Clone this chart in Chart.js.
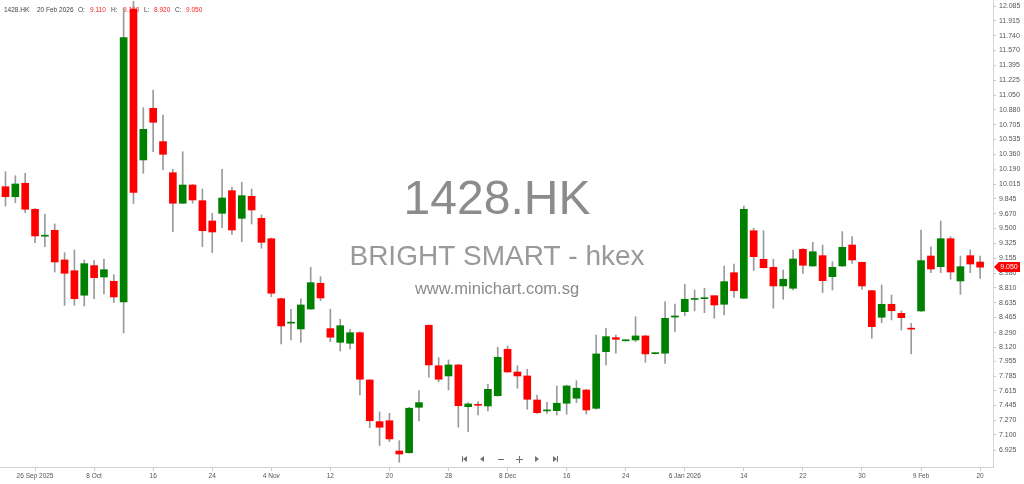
<!DOCTYPE html>
<html>
<head>
<meta charset="utf-8">
<script src="https://cdn.jsdelivr.net/npm/chart.js@4.4.1/dist/chart.umd.min.js"></script>
<style>
html, body { margin: 0; padding: 0; background: #fff; }
#wrap { width: 1024px; height: 484px; }
</style>
</head>
<body>
<div id="wrap"><canvas id="c" width="1024" height="484"></canvas></div>
<script>
// trading days shown (HK calendar)
const dates = [
    '2025-09-23','2025-09-24','2025-09-25','2025-09-26','2025-09-29','2025-09-30',
    '2025-10-02','2025-10-03','2025-10-06','2025-10-08','2025-10-09','2025-10-10','2025-10-13','2025-10-14',
    '2025-10-15','2025-10-16','2025-10-17','2025-10-20','2025-10-21','2025-10-22','2025-10-23','2025-10-24',
    '2025-10-27','2025-10-28','2025-10-30','2025-10-31',
    '2025-11-03','2025-11-04','2025-11-05','2025-11-06','2025-11-07','2025-11-10','2025-11-11','2025-11-12',
    '2025-11-13','2025-11-14','2025-11-17','2025-11-18','2025-11-19','2025-11-20','2025-11-21','2025-11-24',
    '2025-11-25','2025-11-26','2025-11-27','2025-11-28',
    '2025-12-01','2025-12-02','2025-12-03','2025-12-04','2025-12-05','2025-12-08','2025-12-09','2025-12-10',
    '2025-12-11','2025-12-12','2025-12-15','2025-12-16','2025-12-17','2025-12-18','2025-12-19','2025-12-22',
    '2025-12-23','2025-12-24','2025-12-29','2025-12-30','2025-12-31',
    '2026-01-02','2026-01-05','2026-01-06','2026-01-07','2026-01-08','2026-01-09','2026-01-12','2026-01-13',
    '2026-01-14','2026-01-15','2026-01-16','2026-01-19','2026-01-20','2026-01-21','2026-01-22','2026-01-23',
    '2026-01-26','2026-01-27','2026-01-28','2026-01-29','2026-01-30',
    '2026-02-02','2026-02-03','2026-02-04','2026-02-05','2026-02-06','2026-02-09','2026-02-10','2026-02-11',
    '2026-02-12','2026-02-13','2026-02-16','2026-02-20'
];

const opens = [
    9.985, 9.869, 10.025, 9.723, 9.410, 9.479, 9.134, 9.009, 8.724, 9.068,
    8.936, 8.886, 8.646, 12.050, 10.296, 10.897, 10.509, 10.148, 9.793, 10.005,
    9.823, 9.587, 9.676, 9.939, 9.618, 9.874, 9.618, 9.381, 8.684, 8.400,
    8.332, 8.564, 8.863, 8.336, 8.177, 8.166, 8.289, 7.739, 7.255, 7.266,
    6.914, 6.894, 7.422, 8.375, 7.905, 7.786, 7.914, 7.429, 7.450, 7.437,
    7.557, 8.096, 7.832, 7.786, 7.507, 7.380, 7.383, 7.469, 7.527, 7.623,
    7.410, 8.068, 8.231, 8.195, 8.204, 8.251, 8.045, 8.050, 8.470, 8.533,
    8.675, 8.684, 8.719, 8.619, 8.986, 8.689, 9.474, 9.142, 9.049, 8.832,
    8.805, 9.258, 9.064, 9.184, 8.940, 9.064, 9.308, 9.107, 8.777, 8.468,
    8.619, 8.514, 8.340, 8.541, 9.180, 9.056, 9.381, 8.890, 9.184, 9.110
];
const highs = [
    10.160, 10.113, 10.141, 9.730, 9.668, 9.552, 9.219, 9.250, 9.134, 9.126,
    9.145, 8.963, 12.062, 12.140, 10.904, 11.109, 10.819, 10.188, 10.392, 10.010,
    9.959, 9.676, 10.188, 9.979, 10.037, 9.959, 9.657, 9.390, 8.690, 8.561,
    8.681, 9.049, 8.940, 8.561, 8.445, 8.329, 8.300, 7.745, 7.368, 7.352,
    7.034, 7.420, 7.615, 8.380, 7.999, 7.972, 7.920, 7.476, 7.487, 7.689,
    8.119, 8.134, 7.905, 7.864, 7.565, 7.480, 7.670, 7.680, 7.731, 7.630,
    8.262, 8.340, 8.262, 8.205, 8.475, 8.260, 8.055, 8.649, 8.622, 8.851,
    8.785, 8.805, 8.720, 9.064, 9.087, 9.761, 9.502, 9.474, 9.142, 9.018,
    9.250, 9.265, 9.339, 9.308, 9.114, 9.463, 9.405, 9.110, 8.780, 8.843,
    8.727, 8.541, 8.398, 9.482, 9.288, 9.587, 9.405, 9.180, 9.250, 9.180
];
const lows = [
    9.761, 9.800, 9.683, 9.335, 9.288, 8.994, 8.607, 8.607, 8.599, 8.684,
    8.739, 8.638, 8.286, 9.790, 10.141, 10.392, 10.179, 9.463, 9.790, 9.793,
    9.288, 9.219, 9.509, 9.432, 9.346, 9.552, 9.270, 8.707, 8.158, 8.204,
    8.177, 8.560, 8.661, 8.184, 8.076, 8.100, 7.565, 7.185, 6.977, 7.022,
    6.783, 6.890, 7.263, 7.771, 7.720, 7.623, 7.190, 7.139, 7.333, 7.379,
    7.550, 7.830, 7.643, 7.399, 7.350, 7.352, 7.333, 7.341, 7.476, 7.344,
    7.400, 7.914, 8.050, 8.190, 8.184, 7.945, 8.040, 7.933, 8.301, 8.487,
    8.541, 8.521, 8.456, 8.495, 8.700, 8.685, 9.010, 9.040, 8.573, 8.677,
    8.785, 8.979, 9.060, 8.754, 8.785, 9.060, 9.095, 8.793, 8.224, 8.405,
    8.437, 8.320, 8.042, 8.535, 8.986, 8.986, 8.910, 8.735, 8.986, 8.920
];
const closes = [
    9.869, 10.017, 9.723, 9.413, 9.415, 9.111, 8.979, 8.684, 9.091, 8.928,
    9.021, 8.704, 11.717, 9.920, 10.652, 10.734, 10.362, 9.793, 10.005, 9.831,
    9.474, 9.459, 9.854, 9.482, 9.881, 9.715, 9.339, 8.747, 8.367, 8.410,
    8.611, 8.870, 8.692, 8.236, 8.370, 8.289, 7.748, 7.266, 7.190, 7.054,
    6.879, 7.411, 7.476, 7.914, 7.748, 7.914, 7.441, 7.461, 7.445, 7.631,
    8.003, 7.832, 7.786, 7.515, 7.359, 7.385, 7.469, 7.670, 7.643, 7.391,
    8.042, 8.243, 8.212, 8.200, 8.251, 8.042, 8.050, 8.456, 8.483, 8.677,
    8.681, 8.689, 8.611, 8.882, 8.777, 9.723, 9.172, 9.044, 8.832, 8.910,
    9.145, 9.072, 9.230, 8.893, 9.049, 9.281, 9.134, 8.832, 8.359, 8.619,
    8.545, 8.463, 8.330, 9.126, 9.029, 9.381, 8.994, 9.056, 9.087, 9.050
];

const xTickDates = [
    '2025-09-26','2025-10-08','2025-10-16','2025-10-24','2025-11-04','2025-11-12',
    '2025-11-20','2025-11-28','2025-12-08','2025-12-16','2025-12-24','2026-01-06',
    '2026-01-14','2026-01-22','2026-01-30','2026-02-09','2026-02-20'
];
const xTickText = [
    '26 Sep 2025','8 Oct','16','24','4 Nov','12','20','28','8 Dec','16','24',
    '6 Jan 2026','14','22','30','9 Feb','20'
];
const yTickLabels = [
    '12.085','11.915','11.740','11.570','11.395','11.225','11.050','10.880','10.705','10.535',
    '10.360','10.190','10.015','9.845','9.670','9.500','9.325','9.155','8.980','8.810',
    '8.635','8.465','8.290','8.120','7.955','7.785','7.615','7.445','7.270','7.100','6.925'
];

const UP = '#008000';
const DOWN = '#ff0000';
const last = dates.length - 1;

const wickData = dates.map((d, i) => ({ x: i, y: [lows[i], highs[i]] }));
const bodyData = dates.map((d, i) => ({ x: i, y: [Math.min(opens[i], closes[i]), Math.max(opens[i], closes[i])] }));
const bodyColors = dates.map((d, i) => closes[i] >= opens[i] ? UP : DOWN);

// watermark + header text, under the candles
const backText = {
    id: 'backText',
    beforeDatasetsDraw(chart) {
        const c = chart.ctx;
        c.save();
        c.textAlign = 'center';
        c.textBaseline = 'middle';
        c.fillStyle = '#8c8c8c';
        c.font = '48px "Liberation Sans", Arial, sans-serif';
        c.fillText('1428.HK', 497, 201);
        c.fillStyle = '#999999';
        c.font = '28px "Liberation Sans", Arial, sans-serif';
        c.fillText('BRIGHT SMART - hkex', 497, 257);
        c.fillStyle = '#8a8a8a';
        c.font = '16.5px "Liberation Sans", Arial, sans-serif';
        c.fillText('www.minichart.com.sg', 497, 289);

        // OHLC header of the last bar
        c.textAlign = 'left';
        c.font = '6.5px "Liberation Sans", Arial, sans-serif';
        const items = [
            ['1428.HK', 4, '#444'], ['20 Feb 2026', 37, '#444'],
            ['O:', 78, '#444'], [opens[last].toFixed(3), 90, '#ff2020'],
            ['H:', 111, '#444'], [highs[last].toFixed(3), 123, '#ff2020'],
            ['L:', 144, '#444'], [lows[last].toFixed(3), 154, '#ff2020'],
            ['C:', 175, '#444'], [closes[last].toFixed(3), 186, '#ff2020']
        ];
        items.forEach(t => { c.fillStyle = t[2]; c.fillText(t[0], t[1], 10); });
        c.restore();
    }
};

// last price flag + navigation buttons
const overlay = {
    id: 'overlay',
    afterDraw(chart) {
        const c = chart.ctx;
        const y = Math.round(chart.scales.y.getPixelForValue(closes[last]));
        const x0 = chart.chartArea.right;
        c.save();
        c.fillStyle = '#ff0000';
        c.beginPath();
        c.moveTo(x0 + 1, y);
        c.lineTo(x0 + 6, y - 5);
        c.lineTo(x0 + 27, y - 5);
        c.lineTo(x0 + 27, y + 5);
        c.lineTo(x0 + 6, y + 5);
        c.closePath();
        c.fill();
        c.fillStyle = '#fff';
        c.font = '7px "Liberation Sans", Arial, sans-serif';
        c.textAlign = 'center';
        c.textBaseline = 'middle';
        c.fillText(closes[last].toFixed(3), x0 + 16, y + 0.5);

        c.fillStyle = '#707070';
        const ny = 459;
        // |<
        c.fillRect(462, ny - 3, 1, 6);
        c.beginPath(); c.moveTo(463, ny); c.lineTo(467, ny - 3); c.lineTo(467, ny + 3); c.fill();
        // <
        c.beginPath(); c.moveTo(480, ny); c.lineTo(484, ny - 3); c.lineTo(484, ny + 3); c.fill();
        // -
        c.fillRect(498, ny, 6, 1);
        // +
        c.fillRect(516, ny, 7, 1);
        c.fillRect(519, ny - 3, 1, 7);
        // >
        c.beginPath(); c.moveTo(539, ny); c.lineTo(535, ny - 3); c.lineTo(535, ny + 3); c.fill();
        // >|
        c.beginPath(); c.moveTo(557, ny); c.lineTo(553, ny - 3); c.lineTo(553, ny + 3); c.fill();
        c.fillRect(557, ny - 3, 1, 6);
        c.restore();
    }
};

new Chart(document.getElementById('c').getContext('2d'), {
    type: 'bar',
    data: {
        datasets: [
            {
                label: 'body',
                data: bodyData,
                backgroundColor: bodyColors,
                borderWidth: 0,
                barThickness: 7,
                minBarLength: 1,
                grouped: false,
                order: 0
            },
            {
                label: 'wick',
                data: wickData,
                backgroundColor: '#9a9a9a',
                borderWidth: 0,
                barThickness: 1,
                grouped: false,
                order: 1
            }
        ]
    },
    options: {
        responsive: false,
        animation: false,
        layout: { padding: 0 },
        plugins: {
            legend: { display: false },
            tooltip: { enabled: false }
        },
        scales: {
            x: {
                type: 'linear',
                min: -0.559,
                max: 100.31,
                offset: false,
                grid: { display: true, offset: false, drawOnChartArea: false, drawTicks: true, tickLength: 4, color: '#c8c8c8' },
                border: { color: '#d4d4d4' },
                afterBuildTicks: function(scale) {
                    scale.ticks = xTickDates.map(d => ({ value: dates.indexOf(d) }));
                },
                ticks: {
                    autoSkip: false,
                    maxRotation: 0,
                    padding: 1,
                    color: '#555',
                    font: { family: '"Liberation Sans", Arial, sans-serif', size: 6.5 },
                    callback: function(value, index) {
                        return xTickText[index];
                    }
                },
                afterFit: function(scale) {
                    scale.height = 17;
                    scale.paddingLeft = 0;
                    scale.paddingRight = 0;
                }
            },
            y: {
                position: 'right',
                min: 6.728,
                max: 12.155,
                grid: { display: true, drawOnChartArea: false, drawTicks: true, tickLength: 3, color: '#c8c8c8' },
                border: { color: '#d4d4d4' },
                afterBuildTicks: function(scale) {
                    scale.ticks = yTickLabels.map(t => ({ value: parseFloat(t) }));
                },
                ticks: {
                    autoSkip: false,
                    padding: 3,
                    color: '#555',
                    font: { family: '"Liberation Sans", Arial, sans-serif', size: 7 },
                    callback: function(value, index) {
                        return yTickLabels[index];
                    }
                },
                afterFit: function(scale) {
                    scale.width = 31;
                    scale.paddingTop = 0;
                    scale.paddingBottom = 0;
                }
            }
        }
    },
    plugins: [backText, overlay]
});
</script>
</body>
</html>
